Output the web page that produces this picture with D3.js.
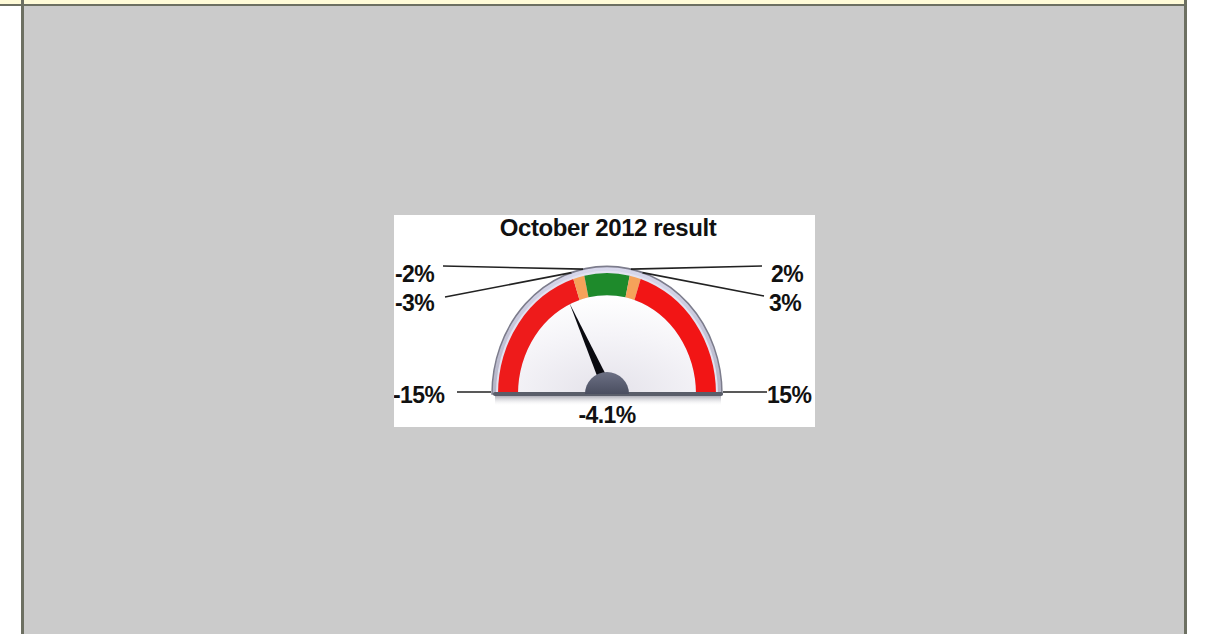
<!DOCTYPE html>
<html lang="en">
<head>
  <meta charset="utf-8">
  <title>October 2012 result</title>
  <script src="https://d3js.org/d3.v7.min.js"></script>
  <style>
    body { margin: 0; background: #fff; }
    svg { display: block; }
  </style>
</head>
<body>
<script>
  // gauge data
  var title = "October 2012 result";
  var value = -4.1;
  var domain = [-15, 15];
  var bands = [
    { from: -15, to: -3, color: "#ee1b1b" },
    { from: -3, to: -2, color: "#f5a25a" },
    { from: -2, to: 2, color: "#1e8a2b" },
    { from: 2, to: 3, color: "#f5a25a" },
    { from: 3, to: 15, color: "#f21515" }
  ];
  var tickValues = [-15, -3, -2, 2, 3, 15];
  var tickLabels = ["-15%", "-3%", "-2%", "2%", "3%", "15%"];

  var width = 1205, height = 634;

  var svg = d3.select("body").append("svg")
      .attr("width", width)
      .attr("height", height);

  // page frame
  svg.append("rect").attr("x", 0).attr("y", 0).attr("width", 1184).attr("height", 4).attr("fill", "#fffbd8");
  svg.append("rect").attr("x", 0).attr("y", 4).attr("width", 1187).attr("height", 2).attr("fill", "#6d7062");
  svg.append("rect").attr("x", 24).attr("y", 6).attr("width", 1160).attr("height", height).attr("fill", "#cbcbcb");
  svg.append("rect").attr("x", 21).attr("y", 0).attr("width", 3).attr("height", height).attr("fill", "#6d7062");
  svg.append("rect").attr("x", 1184).attr("y", 0).attr("width", 3).attr("height", height).attr("fill", "#6d7062");

  // chart box
  var box = { x: 394, y: 215, w: 421, h: 212 };
  svg.append("rect").attr("x", box.x).attr("y", box.y).attr("width", box.w).attr("height", box.h).attr("fill", "#fff");
  var clip = svg.append("clipPath").attr("id", "boxclip");
  clip.append("rect").attr("x", box.x).attr("y", box.y).attr("width", box.w).attr("height", box.h);
  var chart = svg.append("g").attr("clip-path", "url(#boxclip)");

  var defs = svg.append("defs");
  var faceGrad = defs.append("radialGradient").attr("id", "face").attr("cx", "50%").attr("cy", "100%").attr("r", "100%");
  faceGrad.append("stop").attr("offset", "0%").attr("stop-color", "#e4e2ea");
  faceGrad.append("stop").attr("offset", "60%").attr("stop-color", "#f5f4f8");
  faceGrad.append("stop").attr("offset", "100%").attr("stop-color", "#ffffff");
  var rimGrad = defs.append("linearGradient").attr("id", "rim").attr("x1", 0).attr("y1", 0).attr("x2", 0).attr("y2", 1);
  rimGrad.append("stop").attr("offset", "0%").attr("stop-color", "#d8d8ec");
  rimGrad.append("stop").attr("offset", "100%").attr("stop-color", "#b4b4c6");
  var hubGrad = defs.append("linearGradient").attr("id", "hub").attr("x1", 0).attr("y1", 0).attr("x2", 0).attr("y2", 1);
  hubGrad.append("stop").attr("offset", "0%").attr("stop-color", "#6c7084");
  hubGrad.append("stop").attr("offset", "100%").attr("stop-color", "#4a4e60");
  var shadowGrad = defs.append("linearGradient").attr("id", "shadow").attr("x1", 0).attr("y1", 0).attr("x2", 0).attr("y2", 1);
  shadowGrad.append("stop").attr("offset", "0%").attr("stop-color", "#9a9aa6").attr("stop-opacity", 0.8);
  shadowGrad.append("stop").attr("offset", "100%").attr("stop-color", "#ffffff").attr("stop-opacity", 0);

  var cx = 607, cy = 394, sy = 1.11;
  var angle = d3.scaleLinear().domain(domain).range([-Math.PI / 2, Math.PI / 2]);

  // point on the (slightly stretched) dial for a value
  function dialPoint(v, r) {
    var a = angle(v);
    return [cx + r * Math.sin(a), cy - sy * r * Math.cos(a)];
  }

  var font = "Liberation Sans, Arial, sans-serif";

  // title
  chart.append("text")
      .attr("x", cx + 1).attr("y", 236)
      .attr("text-anchor", "middle")
      .attr("font-family", font)
      .attr("font-weight", "bold")
      .attr("font-size", 24)
      .attr("letter-spacing", -0.4)
      .attr("fill", "#111")
      .text(title);

  // shadow under base
  chart.append("rect").attr("x", 495).attr("y", 396).attr("width", 226).attr("height", 10).attr("fill", "url(#shadow)");

  var dial = chart.append("g").attr("transform", "translate(" + cx + "," + cy + ") scale(1," + sy + ")");
  var half = d3.arc().startAngle(-Math.PI / 2).endAngle(Math.PI / 2);

  dial.append("path").attr("d", half({ innerRadius: 0, outerRadius: 115 }))
      .attr("fill", "url(#rim)").attr("stroke", "#7c7c8c").attr("stroke-width", 1.5);
  dial.append("path").attr("d", half({ innerRadius: 0, outerRadius: 111 }))
      .attr("fill", "#e2e2f0");
  dial.append("path").attr("d", half({ innerRadius: 0, outerRadius: 89 }))
      .attr("fill", "url(#face)");

  var bandArc = d3.arc().innerRadius(89).outerRadius(109);
  dial.selectAll("path.band")
      .data(bands)
      .enter().append("path")
      .attr("class", "band")
      .attr("fill", function (d) { return d.color; })
      .attr("d", function (d) {
        return bandArc({ startAngle: angle(d.from), endAngle: angle(d.to) });
      });

  // base bar
  chart.append("rect").attr("x", 493).attr("y", 392).attr("width", 230).attr("height", 4)
      .attr("rx", 2).attr("fill", "#5a5e6a");

  // leader lines and tick labels
  var labelPos = {
    "-15": [393, 403, 457, 392], "-3": [395, 311, 445, 297], "-2": [395, 282, 443, 266],
    "2": [771, 282, 762, 266], "3": [769, 311, 764, 296], "15": [767, 403, 767, 392]
  };
  tickValues.forEach(function (v, i) {
    var p = labelPos[String(v)];
    var end = Math.abs(v) === 15 ? [cx + Math.sign(v) * 116, 392] : dialPoint(v, 115);
    chart.append("line")
        .attr("x1", p[2]).attr("y1", p[3])
        .attr("x2", end[0]).attr("y2", end[1])
        .attr("stroke", "#222").attr("stroke-width", 1.6);
    chart.append("text")
        .attr("x", p[0]).attr("y", p[1])
        .attr("font-family", font)
        .attr("font-weight", "bold")
        .attr("font-size", 23)
        .attr("letter-spacing", -0.6)
        .attr("fill", "#111")
        .text(tickLabels[i]);
  });

  // needle
  var tip = dialPoint(value, 90);
  var a = Math.atan2(tip[1] - cy, tip[0] - cx);
  var bw = 5;
  var needle = [
    [tip[0], tip[1]],
    [cx + bw * Math.cos(a + Math.PI / 2), cy - 6 + bw * Math.sin(a + Math.PI / 2)],
    [cx + bw * Math.cos(a - Math.PI / 2), cy - 6 + bw * Math.sin(a - Math.PI / 2)]
  ];
  chart.append("path").attr("d", d3.line()(needle) + "Z").attr("fill", "#0a0a10");

  // hub
  chart.append("path")
      .attr("transform", "translate(" + cx + "," + cy + ")")
      .attr("d", half({ innerRadius: 0, outerRadius: 22 }))
      .attr("fill", "url(#hub)");

  // value label
  chart.append("text")
      .attr("x", cx).attr("y", 423)
      .attr("text-anchor", "middle")
      .attr("font-family", font)
      .attr("font-weight", "bold")
      .attr("font-size", 23)
      .attr("letter-spacing", -0.6)
      .attr("fill", "#111")
      .text(value.toFixed(1) + "%");
</script>
</body>
</html>
